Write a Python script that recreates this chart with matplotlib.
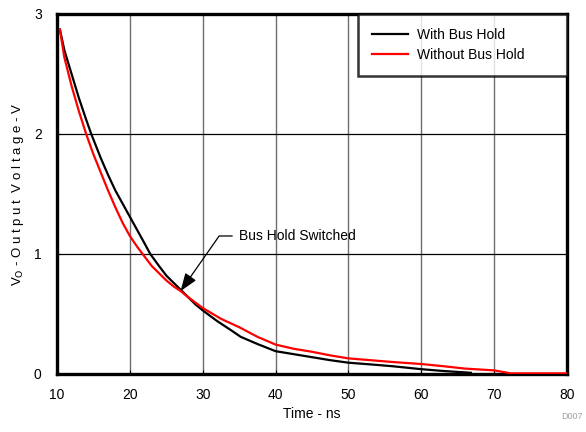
import matplotlib
matplotlib.use("Agg")
import matplotlib.pyplot as plt

plt.rcParams['font.family'] = ['Liberation Sans', 'DejaVu Sans']

# z podtrzymaniem magistrali
czas_z = [10.4, 11.0, 12.0, 13.0, 14.0, 14.7, 16.0, 17.0, 18.0, 19.0, 20.0, 21.0,
          22.0, 22.8, 24.0, 25.0, 26.0, 27.0, 28.0, 29.0, 30.0, 32.0, 34.0, 35.2,
          37.5, 40.0, 42.5, 45.0, 47.5, 50.0, 53.0, 56.0, 60.0, 63.0, 66.8]
nap_z = [2.87, 2.70, 2.50, 2.30, 2.12, 2.00, 1.80, 1.66, 1.53, 1.42, 1.31, 1.20,
         1.09, 1.00, 0.90, 0.82, 0.76, 0.70, 0.64, 0.58, 0.53, 0.44, 0.36, 0.31,
         0.25, 0.19, 0.165, 0.14, 0.115, 0.094, 0.08, 0.065, 0.04, 0.025, 0.01]

# bez podtrzymania
czas_bez = [10.4, 11.0, 12.0, 13.0, 14.0, 15.0, 16.0, 17.0, 18.0, 19.0, 20.0, 21.0,
            22.0, 23.0, 24.0, 25.0, 26.0, 27.0, 28.0, 29.0, 30.0, 32.5, 35.0, 37.5,
            40.0, 42.5, 45.0, 47.5, 50.0, 53.0, 56.0, 60.0, 63.0, 66.0, 70.0, 72.3, 80.0]
nap_bez = [2.87, 2.64, 2.40, 2.19, 2.00, 1.83, 1.68, 1.53, 1.39, 1.26, 1.15, 1.06,
           0.98, 0.90, 0.84, 0.78, 0.73, 0.69, 0.64, 0.595, 0.55, 0.46, 0.39, 0.31,
           0.245, 0.21, 0.185, 0.155, 0.13, 0.115, 0.10, 0.083, 0.065, 0.045, 0.03, 0.005, 0.005]

xt = [10, 20, 30, 40, 50, 60, 70, 80]
yt = [0, 1, 2, 3]

fig = plt.figure(figsize=(5.86, 4.32), dpi=100)
ax = fig.add_axes([0.0973, 0.1343, 0.8703, 0.8333])

for x in xt[1:-1]:
    ax.axvline(x, color='#6e6e6e', lw=1.0, zorder=1)
for y in yt[1:-1]:
    ax.axhline(y, color='black', lw=0.9, zorder=1)

ax.plot(czas_z, nap_z, color='black', lw=1.6, label='With Bus Hold', zorder=3)
ax.plot(czas_bez, nap_bez, color='#ff0000', lw=1.6, label='Without Bus Hold', zorder=4)

ax.set_xlim(10, 80)
ax.set_ylim(0, 3)
ax.set_xticks(xt)
ax.set_yticks(yt)
ax.tick_params(direction='in', length=3, width=0.8, labelsize=10)
ax.tick_params(axis='x', pad=10)
ax.tick_params(axis='y', pad=11)
for sp in ax.spines.values():
    sp.set_linewidth(2.4)

ax.set_xlabel('Time - ns', fontsize=10, labelpad=4)
ax.set_ylabel('V$_{\\rm O}$ - O u t p u t  V o l t a g e - V', fontsize=9.5, labelpad=6)

leg = ax.legend(loc='upper right', fontsize=10, frameon=True, fancybox=False,
                edgecolor='black', mode='expand', bbox_to_anchor=(0.591, 0, 0.409, 1.0),
                borderaxespad=0, handlelength=2.6, borderpad=1.0,
                labelspacing=0.45, handletextpad=0.6)
leg.get_frame().set_linewidth(1.8)

ax.annotate('Bus Hold Switched', xy=(26.95, 0.69), xytext=(35.0, 1.15),
            fontsize=10, va='center', ha='left',
            arrowprops=dict(arrowstyle='-|>,head_length=1.1,head_width=0.4',
                            color='black', lw=0.9,
                            connectionstyle='angle,angleA=0,angleB=55,rad=0',
                            shrinkA=3, shrinkB=0),
            zorder=5)

fig.text(0.995, 0.035, 'D007', fontsize=6.5, color='#a0a0a0', ha='right', va='center')

plt.savefig('out.png', dpi=100)
